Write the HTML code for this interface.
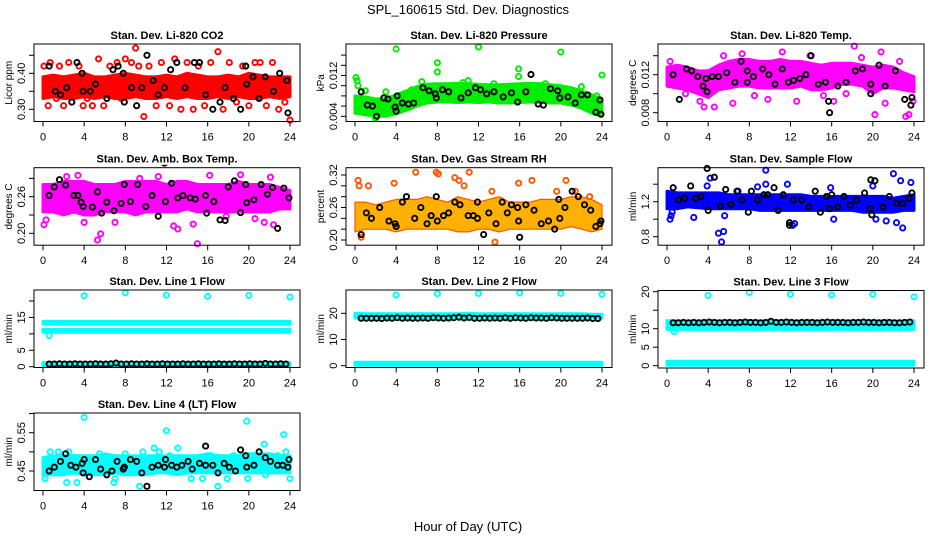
<!DOCTYPE html>
<html><head><meta charset="utf-8"><title>SPL_160615 Std. Dev. Diagnostics</title>
<style>html,body{margin:0;padding:0;background:#fff}svg{display:block;font-family:"Liberation Sans",Arial,sans-serif}</style>
</head><body>
<svg id="chart" width="936" height="540" viewBox="0 0 936 540" xmlns="http://www.w3.org/2000/svg">
<rect x="0" y="0" width="936" height="540" fill="#fff"/>
<text x="468" y="14" font-size="13" text-anchor="middle">SPL_160615  Std. Dev. Diagnostics</text>
<text x="468" y="531" font-size="13" text-anchor="middle">Hour of Day (UTC)</text>
</svg>
<script>
const xTicks = [0,4,8,12,16,20,24];
const bandHours = [0,1,2,3,4,5,6,7,8,9,10,11,12,13,14,15,16,17,18,19,20,21,22,23,24];

// P1 CO2
const co2Low = [0.33,0.335,0.33,0.33,0.335,0.33,0.335,0.33,0.33,0.335,0.33,0.33,0.335,0.33,0.335,0.33,0.33,0.335,0.33,0.335,0.33,0.33,0.335,0.33,0.335];
const co2High = [0.39,0.395,0.39,0.395,0.40,0.39,0.39,0.395,0.40,0.395,0.39,0.39,0.395,0.39,0.40,0.395,0.39,0.39,0.395,0.39,0.40,0.395,0.39,0.39,0.39];
const co2OutX = [0.1,0.5,0.7,1.3,1.6,2.0,2.5,3.0,3.5,3.9,4.3,4.8,5.4,5.9,6.5,7.2,7.6,8.0,8.6,9.0,9.3,9.8,10.3,11.0,11.5,12.3,12.8,13.4,14.0,14.6,15.1,15.7,16.3,17.0,17.5,18.1,18.8,19.4,20.0,20.6,21.1,21.7,22.3,22.9,23.5,24.0];
const co2OutY = [0.42,0.31,0.43,0.33,0.42,0.31,0.43,0.34,0.42,0.31,0.33,0.31,0.44,0.31,0.42,0.43,0.33,0.44,0.43,0.47,0.42,0.28,0.42,0.31,0.43,0.31,0.44,0.30,0.43,0.30,0.42,0.31,0.43,0.46,0.30,0.43,0.32,0.42,0.31,0.43,0.43,0.31,0.43,0.30,0.32,0.27];
const co2BlkX = [0.6,1.2,1.7,2.3,2.8,3.3,3.8,3.9,4.6,5.1,6.2,6.8,7.3,7.8,7.9,8.6,9.1,9.6,10.1,10.7,11.2,11.8,12.4,13.0,13.8,14.7,15.2,15.8,16.5,17.2,17.7,18.5,19.2,19.7,19.8,20.4,21.0,21.6,22.4,23.0,23.7,23.8];
const co2BlkY = [0.42,0.35,0.34,0.36,0.32,0.43,0.40,0.35,0.35,0.37,0.33,0.41,0.42,0.40,0.32,0.36,0.31,0.36,0.45,0.38,0.34,0.36,0.41,0.43,0.36,0.43,0.43,0.34,0.30,0.32,0.36,0.33,0.30,0.42,0.37,0.39,0.33,0.39,0.35,0.40,0.38,0.29];

// P2 Pressure
const presLow = [0.0046,0.0043,0.0040,0.0040,0.0045,0.0052,0.0060,0.0066,0.0068,0.0068,0.0067,0.0068,0.0067,0.0068,0.0066,0.0066,0.0067,0.0068,0.0067,0.0066,0.0066,0.0062,0.0056,0.0046,0.0040];
const presHigh = [0.0080,0.0078,0.0074,0.0075,0.0082,0.0090,0.0098,0.0103,0.0104,0.0104,0.0105,0.0104,0.0103,0.0102,0.0102,0.0103,0.0104,0.0105,0.0104,0.0102,0.0100,0.0096,0.0090,0.0082,0.0074];
const presOutX = [0.1,0.2,0.3,4.0,8.0,8.0,12.0,15.9,15.9,20.0,24.0,1.0,3.0,5.5,10.5,13.5,18.5,22.0,23.5,2.0,6.5,11.0];
const presOutY = [0.0116,0.0110,0.0100,0.0172,0.0145,0.0127,0.0176,0.0133,0.0118,0.0166,0.0121,0.0090,0.0088,0.0092,0.0106,0.0104,0.0104,0.0098,0.0080,0.0036,0.0108,0.0110];
const presBlkX = [0.6,1.2,1.7,2.1,2.8,3.2,3.9,4.0,4.1,4.6,5.2,5.7,6.6,7.2,7.8,7.9,8.5,9.1,10.3,11.0,11.7,12.2,12.8,13.5,14.4,15.2,15.8,16.6,17.1,17.8,18.3,19.0,19.7,19.9,20.7,21.4,22.0,22.6,23.4,23.8,23.9];
const presBlkY = [0.0088,0.0062,0.0060,0.0040,0.0076,0.0074,0.0058,0.0050,0.0080,0.0066,0.0064,0.0066,0.0096,0.0090,0.0084,0.0076,0.0092,0.0088,0.0076,0.0086,0.0096,0.0092,0.0084,0.0088,0.0078,0.0086,0.0068,0.0088,0.0122,0.0064,0.0062,0.0094,0.0090,0.0076,0.0078,0.0066,0.0082,0.0082,0.0048,0.0072,0.0044];

// P3 Li-820 Temp
const tempLow = [0.0108,0.0106,0.0104,0.0100,0.0096,0.0104,0.0106,0.0108,0.0108,0.0106,0.0106,0.0106,0.0106,0.0108,0.0104,0.0104,0.0106,0.0110,0.0110,0.0108,0.0100,0.0106,0.0106,0.0104,0.0102];
const tempHigh = [0.0128,0.0130,0.0128,0.0124,0.0124,0.0130,0.0134,0.0136,0.0136,0.0134,0.0134,0.0136,0.0134,0.0134,0.0132,0.0130,0.0132,0.0132,0.0132,0.0130,0.0128,0.0130,0.0128,0.0122,0.0118];
const tempOutX = [0.3,1.8,3.2,3.6,4.6,5.5,6.4,7.3,8.5,9.8,11.2,12.6,13.9,15.2,16.2,17.4,18.2,18.9,20.2,20.8,21.2,22.6,23.2,23.5,23.9];
const tempOutY = [0.0134,0.0100,0.0092,0.0086,0.0086,0.0140,0.0090,0.0142,0.0098,0.0094,0.0144,0.0092,0.0140,0.0098,0.0092,0.0100,0.0150,0.0138,0.0078,0.0144,0.0090,0.0134,0.0076,0.0078,0.0092];
const tempBlkX = [0.6,1.2,1.9,2.4,3.0,3.5,3.8,3.9,4.4,5.0,5.8,6.6,7.2,7.8,7.8,8.4,9.3,9.9,10.5,11.2,11.8,12.3,12.9,13.5,14.0,14.7,15.4,15.7,15.8,16.6,17.4,18.3,19.0,19.8,19.8,20.6,21.2,22.2,23.1,23.7,23.8];
const tempBlkY = [0.0120,0.0094,0.0126,0.0124,0.0118,0.0108,0.0116,0.0102,0.0118,0.0118,0.0122,0.0112,0.0134,0.0124,0.0112,0.0118,0.0126,0.0120,0.0110,0.0126,0.0112,0.0114,0.0116,0.0120,0.0140,0.0110,0.0112,0.0092,0.0080,0.0108,0.0112,0.0124,0.0126,0.0110,0.0100,0.0130,0.0108,0.0124,0.0094,0.0088,0.0096];

// P4 Amb box temp
const ambLow = [0.235,0.235,0.23,0.235,0.23,0.23,0.235,0.235,0.235,0.23,0.235,0.235,0.235,0.235,0.24,0.235,0.235,0.235,0.235,0.235,0.235,0.235,0.235,0.24,0.24];
const ambHigh = [0.28,0.28,0.285,0.285,0.285,0.28,0.28,0.28,0.285,0.285,0.285,0.285,0.28,0.285,0.285,0.28,0.28,0.28,0.28,0.285,0.28,0.28,0.28,0.275,0.27];
const ambOutX = [0.1,0.3,2.3,3.4,4.0,5.3,5.6,7.0,9.4,11.2,12.7,13.1,14.6,15.0,16.2,17.8,19.2,20.6,22.1,22.4,21.5];
const ambOutY = [0.214,0.222,0.293,0.295,0.218,0.189,0.199,0.218,0.290,0.293,0.212,0.207,0.215,0.183,0.295,0.228,0.296,0.224,0.292,0.214,0.218];
const ambBlkX = [0.6,1.1,1.6,2.2,3.0,3.4,3.7,3.9,4.8,5.3,5.7,6.2,6.9,7.6,7.9,8.5,9.2,10.0,10.6,11.2,11.8,11.9,12.5,13.1,13.6,14.3,14.8,15.2,15.8,15.9,16.6,17.2,17.7,18.0,18.6,19.2,19.7,19.8,20.5,21.2,21.8,22.3,22.8,23.4,23.9];
const ambBlkY = [0.262,0.276,0.288,0.279,0.262,0.262,0.251,0.244,0.243,0.268,0.233,0.251,0.237,0.249,0.28,0.252,0.28,0.244,0.262,0.228,0.315,0.252,0.282,0.258,0.262,0.258,0.256,0.319,0.262,0.233,0.252,0.222,0.221,0.276,0.286,0.234,0.28,0.25,0.255,0.28,0.264,0.275,0.208,0.274,0.258];

// P5 Gas stream RH
const rhLow = [0.215,0.22,0.22,0.22,0.215,0.22,0.22,0.22,0.22,0.22,0.215,0.215,0.22,0.22,0.215,0.22,0.22,0.22,0.22,0.22,0.22,0.225,0.22,0.215,0.22];
const rhHigh = [0.27,0.27,0.265,0.27,0.275,0.275,0.275,0.28,0.275,0.27,0.28,0.275,0.27,0.275,0.28,0.27,0.27,0.27,0.275,0.275,0.275,0.28,0.28,0.275,0.265];
const rhOutX = [0.3,0.4,0.6,1.3,3.8,5.9,7.9,8.1,9.7,10.1,10.6,11.1,13.3,13.6,15.9,17.2,19.6,20.5,21.4,22.8];
const rhOutY = [0.31,0.30,0.205,0.30,0.305,0.325,0.325,0.322,0.315,0.31,0.30,0.325,0.29,0.196,0.305,0.31,0.29,0.31,0.29,0.28];
const rhBlkX = [0.6,1.1,1.6,2.4,3.3,3.9,4.0,4.6,5.0,5.8,6.4,7.0,7.4,7.9,8.0,8.6,9.1,9.7,10.2,11.0,11.5,11.9,11.9,12.5,13.0,13.7,14.3,14.8,15.2,15.8,15.9,16.0,16.6,17.4,18.1,18.8,19.4,19.8,19.9,20.4,21.1,21.7,22.3,22.9,23.4,23.8,23.9];
const rhBlkY = [0.21,0.25,0.24,0.26,0.235,0.23,0.225,0.27,0.28,0.24,0.26,0.23,0.245,0.28,0.235,0.245,0.25,0.27,0.265,0.245,0.245,0.27,0.24,0.21,0.25,0.23,0.27,0.25,0.265,0.26,0.235,0.205,0.265,0.255,0.23,0.235,0.22,0.275,0.24,0.26,0.29,0.28,0.265,0.255,0.225,0.23,0.235];

// P6 Sample flow
const sfLow = [1.12,1.12,1.14,1.13,1.12,1.12,1.12,1.12,1.12,1.10,1.10,1.10,1.10,1.10,1.10,1.10,1.10,1.10,1.10,1.08,1.08,1.08,1.08,1.10,1.10];
const sfHigh = [1.32,1.30,1.30,1.30,1.30,1.30,1.28,1.28,1.28,1.28,1.28,1.28,1.28,1.28,1.26,1.26,1.26,1.26,1.26,1.26,1.26,1.26,1.24,1.26,1.28];
const sfOutX = [0.3,0.4,0.5,2.6,3.9,4.2,5.0,5.3,5.5,5.6,6.9,8.8,9.6,9.6,11.7,12.2,12.4,15.9,16.2,20.0,20.3,21.3,22.0,22.3,22.7,22.9,23.7];
const sfOutY = [1.00,1.04,1.08,1.02,1.38,1.47,0.84,0.74,0.86,1.04,1.32,1.37,1.56,1.40,1.40,0.93,0.95,1.36,1.00,1.38,1.00,0.98,1.52,0.96,1.44,0.90,1.42];
const sfBlkX = [0.6,1.1,1.7,2.3,2.8,3.3,3.9,4.0,4.6,5.2,5.7,6.2,6.8,7.3,7.9,8.2,8.8,9.4,9.8,10.4,10.8,11.3,11.9,11.9,12.3,13.1,13.8,14.4,14.9,15.5,15.8,16.0,16.6,17.2,17.8,18.4,19.2,19.7,19.8,19.9,20.2,21.0,21.6,22.3,22.9,23.5,23.8];
const sfBlkY = [1.36,1.22,1.24,1.38,1.24,1.26,1.58,1.10,1.48,1.15,1.34,1.17,1.32,1.22,1.08,1.32,1.22,1.28,1.28,1.36,1.10,1.28,0.93,0.96,1.22,1.22,1.14,1.32,1.08,1.26,1.12,1.28,1.14,1.26,1.16,1.22,1.30,1.12,1.45,1.05,1.44,1.14,1.26,1.18,1.18,1.24,1.30];

// Line flows
const l1UpLow = [12.9,12.9,12.9,12.9,12.9,12.9,12.9,12.9,12.9,12.9,12.9,12.9,12.9,12.9,12.9,12.9,12.9,12.9,12.9,12.9,12.9,12.9,12.9,12.9,12.9];
const l1UpHigh = [13.8,13.8,13.8,13.8,13.8,13.8,13.8,13.8,13.8,13.8,13.8,13.8,13.8,13.8,13.8,13.8,13.8,13.8,13.8,13.8,13.8,13.8,13.8,13.8,13.8];
const l1MidLow = [10.5,10.5,10.5,10.5,10.5,10.5,10.5,10.5,10.5,10.5,10.5,10.5,10.5,10.5,10.5,10.5,10.5,10.5,10.5,10.5,10.5,10.5,10.5,10.5,10.5];
const l1MidHigh = [11.4,11.4,11.4,11.4,11.4,11.4,11.4,11.4,11.4,11.4,11.4,11.4,11.4,11.4,11.4,11.4,11.4,11.4,11.4,11.4,11.4,11.4,11.4,11.4,11.4];
const l1BotLow = [0.3,0.3,0.3,0.3,0.3,0.3,0.3,0.3,0.3,0.3,0.3,0.3,0.3,0.3,0.3,0.3,0.3,0.3,0.3,0.3,0.3,0.3,0.3,0.3,0.3];
const l1BotHigh = [1.2,1.2,1.2,1.2,1.2,1.2,1.2,1.2,1.2,1.2,1.2,1.2,1.2,1.2,1.2,1.2,1.2,1.2,1.2,1.2,1.2,1.2,1.2,1.2,1.2];
const l1OutX = [4,8,12,16,20,24,0.6];
const l1OutY = [21.6,22.5,21.8,21.4,21.7,21.2,9.5];
const l1Blk = [0.8,0.8,0.9,0.8,0.8,0.9,0.8,0.8,0.8,0.9,0.8,0.8,0.9,1.1,0.8,0.8,0.9,0.8,0.8,0.9,0.8,0.8,0.9,0.8,0.8,0.8,0.9,0.8,0.8,0.9,0.8,0.8,0.8,0.9,0.8,0.8,0.9,0.8,0.8,0.9,0.8,0.8,1.0,0.8,0.8,0.9,0.8];

const l2UpLow = [18.2,18.2,18.2,18.2,18.2,18.2,18.2,18.2,18.2,18.2,18.2,18.2,18.2,18.2,18.2,18.2,18.2,18.2,18.2,18.2,18.2,18.2,18.2,18.2,18.2];
const l2UpHigh = [20.0,19.8,19.8,19.8,19.8,19.8,19.8,19.8,19.8,19.8,19.8,20.0,19.8,19.8,19.8,19.8,19.8,19.8,19.8,19.8,19.8,19.8,19.8,19.6,19.6];
const l2BotLow = [0.2,0.2,0.2,0.2,0.2,0.2,0.2,0.2,0.2,0.2,0.2,0.2,0.2,0.2,0.2,0.2,0.2,0.2,0.2,0.2,0.2,0.2,0.2,0.2,0.2];
const l2BotHigh = [1.3,1.3,1.3,1.3,1.3,1.3,1.3,1.3,1.3,1.3,1.3,1.3,1.3,1.3,1.3,1.3,1.3,1.3,1.3,1.3,1.3,1.3,1.3,1.3,1.3];
const l2OutX = [4,8,12,16,20,24];
const l2OutY = [27.0,27.5,27.6,27.8,27.6,27.2];
const l2Blk = [18.1,18.1,18.1,18.1,18.0,18.2,18.1,18.3,18.1,18.2,18.1,18.1,18.2,18.1,18.3,18.2,18.1,18.2,18.3,18.5,18.2,18.4,18.1,18.1,18.2,18.1,18.2,18.1,18.3,18.1,18.3,18.2,18.1,18.3,18.2,18.2,18.1,18.3,18.2,18.1,18.1,18.1,18.1,18.1,18.2,18.0,18.0];

const l3UpLow = [11.4,11.4,11.4,11.4,11.4,11.4,11.4,11.4,11.4,11.4,11.4,11.4,11.4,11.4,11.4,11.4,11.4,11.4,11.4,11.4,11.4,11.4,11.4,11.4,11.4];
const l3UpHigh = [12.2,12.1,12.1,12.1,12.1,12.1,12.1,12.1,12.1,12.1,12.1,12.1,12.1,12.1,12.1,12.1,12.1,12.1,12.1,12.1,12.1,12.1,12.1,12.1,12.1];
const l3MidLow = [9.8,9.8,9.8,9.8,9.8,9.8,9.8,9.8,9.8,9.8,9.8,9.8,9.8,9.8,9.8,9.8,9.8,9.8,9.8,9.8,9.8,9.8,9.8,9.8,9.8];
const l3MidHigh = [11.0,11.0,11.0,11.0,11.0,11.0,11.0,11.0,11.0,11.0,11.0,11.0,11.0,11.0,11.0,11.0,11.0,11.0,11.0,11.0,11.0,11.0,11.0,11.0,11.0];
const l3BotLow = [0.1,0.1,0.1,0.1,0.1,0.1,0.1,0.1,0.1,0.1,0.1,0.1,0.1,0.1,0.1,0.1,0.1,0.1,0.1,0.1,0.1,0.1,0.1,0.1,0.1];
const l3BotHigh = [1.2,1.2,1.2,1.2,1.2,1.2,1.2,1.2,1.2,1.2,1.2,1.2,1.2,1.2,1.2,1.2,1.2,1.2,1.2,1.2,1.2,1.2,1.2,1.2,1.2];
const l3OutX = [4,8,12,16,20,24,0.7];
const l3OutY = [19.0,19.8,19.3,19.1,19.3,18.6,9.2];
const l3Blk = [11.6,11.6,11.7,11.6,11.7,11.6,11.7,11.8,11.7,11.6,11.7,11.7,11.6,11.7,11.8,11.7,11.7,11.6,11.7,12.0,11.7,11.7,11.8,11.7,11.6,11.7,11.7,11.7,11.6,11.7,11.8,11.7,11.7,11.7,11.6,11.7,11.7,11.8,11.7,11.7,11.6,11.7,11.7,11.6,11.6,11.7,11.8];

// P10 Line 4
const l4Low = [0.44,0.44,0.44,0.445,0.44,0.44,0.44,0.445,0.44,0.44,0.44,0.445,0.445,0.44,0.445,0.445,0.445,0.445,0.445,0.445,0.445,0.445,0.445,0.445,0.445];
const l4High = [0.485,0.49,0.49,0.49,0.49,0.49,0.495,0.49,0.49,0.49,0.49,0.49,0.49,0.49,0.49,0.49,0.495,0.49,0.49,0.49,0.495,0.495,0.495,0.49,0.49];
const l4OutX = [0.2,0.3,0.7,1.5,2.3,2.5,3.3,4.0,5.5,6.9,7.0,8.0,9.4,9.7,10.8,11.3,12.0,12.3,13.1,14.4,15.5,16.3,17.0,17.9,18.5,19.8,19.9,21.5,21.6,22.8,23.4,23.6,24.0];
const l4OutY = [0.43,0.475,0.50,0.50,0.42,0.50,0.42,0.59,0.495,0.42,0.43,0.495,0.41,0.50,0.51,0.50,0.555,0.49,0.51,0.43,0.43,0.49,0.41,0.43,0.49,0.58,0.43,0.52,0.44,0.49,0.545,0.50,0.43];
const l4BlkX = [0.6,1.1,1.7,2.2,2.7,3.2,3.8,3.9,4.0,4.5,5.1,5.6,6.2,6.7,7.2,7.8,7.9,8.5,9.1,9.6,10.1,10.6,11.2,11.8,11.9,12.5,13.0,13.5,14.1,14.5,15.2,15.8,15.8,16.5,17.0,17.6,18.1,18.7,19.2,19.7,19.8,20.5,21.0,21.6,22.1,22.8,23.3,23.8,23.9];
const l4BlkY = [0.45,0.46,0.475,0.495,0.465,0.46,0.47,0.445,0.48,0.435,0.48,0.455,0.44,0.45,0.475,0.455,0.46,0.48,0.475,0.445,0.41,0.46,0.465,0.46,0.48,0.465,0.46,0.465,0.475,0.455,0.47,0.515,0.465,0.465,0.445,0.47,0.46,0.45,0.505,0.49,0.46,0.465,0.50,0.485,0.475,0.465,0.465,0.46,0.48];

const NS = 'http://www.w3.org/2000/svg';
const svg = document.getElementById('chart');
function mk(tag, attrs, parent) {
  const e = document.createElementNS(NS, tag);
  for (const k in attrs) e.setAttribute(k, attrs[k]);
  (parent || svg).appendChild(e);
  return e;
}
const flowGrid = (n) => { const a = []; for (let i = 0; i < n; i++) a.push(0.6 + i * 0.5); return a; };

const panels = [
  {id:'co2', title:'Stan. Dev. Li-820 CO2', ylab:'Licor ppm', left:34, top:44, v0:0.30, p0:65.3, v1:0.40, p1:29.3, ticks:[0.30,0.35,0.40,0.45], labels:['0.30','','0.40',''], color:'#ff0000', bands:[[co2Low,co2High]], outX:co2OutX, outY:co2OutY, bx:co2BlkX, by:co2BlkY},
  {id:'pressure', title:'Stan. Dev. Li-820 Pressure', ylab:'kPa', left:346, top:44, v0:0.004, p0:72.3, v1:0.012, p1:31.5, ticks:[0.004,0.006,0.008,0.010,0.012,0.014,0.016], labels:['0.004','','','','0.012','',''], color:'#00ee00', bands:[[presLow,presHigh]], outX:presOutX, outY:presOutY, bx:presBlkX, by:presBlkY},
  {id:'li820-temp', title:'Stan. Dev. Li-820 Temp.', ylab:'degrees C', left:658, top:44, v0:0.008, p0:68.7, v1:0.012, p1:30.7, ticks:[0.008,0.010,0.012,0.014], labels:['0.008','','0.012',''], color:'#ff00ff', bands:[[tempLow,tempHigh]], outX:tempOutX, outY:tempOutY, bx:tempBlkX, by:tempBlkY},
  {id:'amb-box-temp', title:'Stan. Dev. Amb. Box Temp.', ylab:'degrees C', left:34, top:167.7, v0:0.20, p0:65.6, v1:0.26, p1:29, ticks:[0.20,0.23,0.26,0.29], labels:['0.20','','0.26',''], color:'#ff00ff', bands:[[ambLow,ambHigh]], outX:ambOutX, outY:ambOutY, bx:ambBlkX, by:ambBlkY},
  {id:'gas-stream-rh', title:'Stan. Dev. Gas Stream RH', ylab:'percent', left:346, top:167.7, v0:0.20, p0:72.3, v1:0.32, p1:7.3, ticks:[0.20,0.22,0.24,0.26,0.28,0.30,0.32], labels:['0.20','','','0.26','','','0.32'], color:'#ffb000', edge:'#ff5500', bands:[[rhLow,rhHigh]], outX:rhOutX, outY:rhOutY, bx:rhBlkX, by:rhBlkY},
  {id:'sample-flow', title:'Stan. Dev. Sample Flow', ylab:'ml/min', left:658, top:167.7, v0:0.8, p0:69, v1:1.2, p1:34, ticks:[0.8,1.0,1.2,1.4], labels:['0.8','','1.2',''], color:'#0000ff', bands:[[sfLow,sfHigh]], outX:sfOutX, outY:sfOutY, bx:sfBlkX, by:sfBlkY},
  {id:'line1-flow', title:'Stan. Dev. Line 1 Flow', ylab:'ml/min', left:34, top:290, v0:0, p0:76.7, v1:20, p1:11, ticks:[0,5,10,15,20], labels:['0','5','','15',''], color:'#00ffff', bands:[[l1UpLow,l1UpHigh],[l1MidLow,l1MidHigh],[l1BotLow,l1BotHigh]], outX:l1OutX, outY:l1OutY, bx:flowGrid(l1Blk.length), by:l1Blk},
  {id:'line2-flow', title:'Stan. Dev. Line 2 Flow', ylab:'ml/min', left:346, top:290, v0:0, p0:75.7, v1:10, p1:49.5, ticks:[0,10,20], labels:['0','10','20'], color:'#00ffff', bands:[[l2UpLow,l2UpHigh],[l2BotLow,l2BotHigh]], outX:l2OutX, outY:l2OutY, bx:flowGrid(l2Blk.length), by:l2Blk},
  {id:'line3-flow', title:'Stan. Dev. Line 3 Flow', ylab:'ml/min', left:658, top:290.5, v0:0, p0:75.2, v1:20, p1:1.2, ticks:[0,5,10,15,20], labels:['0','5','10','','20'], color:'#00ffff', bands:[[l3UpLow,l3UpHigh],[l3MidLow,l3MidHigh],[l3BotLow,l3BotHigh]], outX:l3OutX, outY:l3OutY, bx:flowGrid(l3Blk.length), by:l3Blk},
  {id:'line4-flow', title:'Stan. Dev. Line 4 (LT) Flow', ylab:'ml/min', left:34, top:413, v0:0.45, p0:58, v1:0.55, p1:19.7, ticks:[0.45,0.50,0.55,0.60], labels:['0.45','','0.55',''], color:'#00ffff', bands:[[l4Low,l4High]], outX:l4OutX, outY:l4OutY, bx:l4BlkX, by:l4BlkY}
];

panels.forEach(function(p, idx) {
  const W = 266, H = 77.5;
  const xs = h => p.left + 9 + h * (247 / 24);
  const ys = v => p.top + p.p0 + (v - p.v0) * (p.p1 - p.p0) / (p.v1 - p.v0);
  const g = mk('g', {});
  
  
  const cp = mk('clipPath', {id: 'clip' + idx}, g);
  mk('rect', {x: p.left, y: p.top - 3, width: W, height: H + 6}, cp);
  const plot = mk('g', {'clip-path': 'url(#clip' + idx + ')'}, g);
  
  
  p.bands.forEach(function(b) {
    let d = '';
    bandHours.forEach((h, i) => { d += (i ? 'L' : 'M') + xs(h).toFixed(1) + ' ' + ys(b[1][i]).toFixed(1); });
    for (let i = bandHours.length - 1; i >= 0; i--) d += 'L' + xs(bandHours[i]).toFixed(1) + ' ' + ys(b[0][i]).toFixed(1);
    const band = mk('path', {d: d + 'Z', fill: p.color, stroke: p.edge || p.color, 'stroke-width': p.edge ? 1.2 : 3, 'stroke-linejoin': 'round'}, plot);
    
    
  });
  const n1 = Math.min(p.outX.length, p.outY.length);
  for (let i = 0; i < n1; i++) {
    const c = mk('circle', {cx: xs(p.outX[i]), cy: ys(p.outY[i]), r: 2.6, fill: 'none', stroke: p.edge || p.color, 'stroke-width': 1.9}, plot);
    
    
  }
  const n2 = Math.min(p.bx.length, p.by.length);
  for (let i = 0; i < n2; i++) {
    const c = mk('circle', {cx: xs(p.bx[i]), cy: ys(p.by[i]), r: 2.6, fill: 'none', stroke: '#000', 'stroke-width': 1.9}, plot);
    
    
  }
  const box = mk('rect', {x: p.left, y: p.top, width: W, height: H, fill: 'none', stroke: '#000', 'stroke-width': 1}, g);
  
  
  const t = mk('text', {x: p.left + W / 2, y: p.top - 5, 'font-size': 11, 'font-weight': 'bold', 'text-anchor': 'middle'}, g);
  t.textContent = p.title;
  
  
  const bottom = p.top + H;
  xTicks.forEach(function(h) {
    const tk = mk('line', {x1: xs(h), x2: xs(h), y1: bottom, y2: bottom + 5, stroke: '#000'}, g);
    
    
    const tl = mk('text', {x: xs(h), y: bottom + 19, 'font-size': 11, 'text-anchor': 'middle'}, g);
    tl.textContent = String(h);
    
    
  });
  p.ticks.forEach(function(v, i) {
    const y = ys(v);
    if (y < p.top - 1 || y > bottom + 1) return;
    const tk = mk('line', {x1: p.left - 5, x2: p.left, y1: y, y2: y, stroke: '#000'}, g);
    
    
    if (p.labels[i]) {
      const tl = mk('text', {x: p.left - 9, y: y, 'font-size': 11, 'text-anchor': 'middle', transform: 'rotate(-90 ' + (p.left - 9) + ' ' + y + ')'}, g);
      tl.textContent = p.labels[i];
      
      
    }
  });
  const cy = p.top + H / 2;
  const yl = mk('text', {x: p.left - 22, y: cy, 'font-size': 10, 'text-anchor': 'middle', transform: 'rotate(-90 ' + (p.left - 22) + ' ' + cy + ')'}, g);
  yl.textContent = p.ylab;
  
  
});
</script>
</body></html>
